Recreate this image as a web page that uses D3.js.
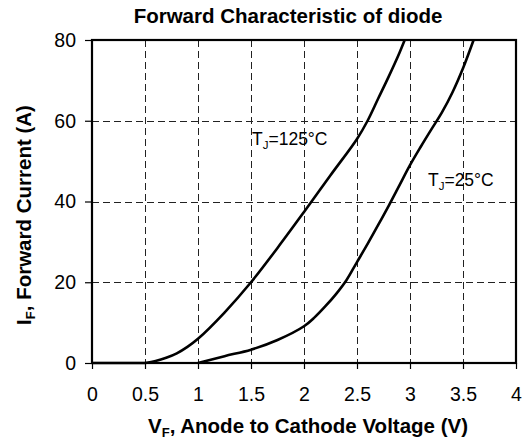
<!DOCTYPE html>
<html>
<head>
<meta charset="utf-8">
<script src="https://cdn.jsdelivr.net/npm/d3@7"></script>
<style>
  body { margin: 0; background: #fff; }
  svg { display: block; font-family: Arial, "Liberation Sans", sans-serif; }
</style>
</head>
<body>
<svg id="chart" width="524" height="442"></svg>
<script>
// ---- data ----
const xTicks = [0, 0.5, 1, 1.5, 2, 2.5, 3, 3.5, 4];
const yTicks = [0, 20, 40, 60, 80];
const tj125V = [0.5, 0.6, 0.7, 0.8, 0.9, 1.0, 1.25, 1.5, 1.75, 2.0, 2.25, 2.5, 2.6, 2.7, 2.8, 2.9, 2.95];
const tj125I = [0, 0.5, 1.3, 2.4, 4, 6, 12.5, 20, 28.5, 37.4, 46.5, 55.5, 60, 65.5, 71, 76.8, 80];
const tj25V = [1.0, 1.25, 1.5, 1.75, 2.0, 2.1, 2.2, 2.3, 2.4, 2.5, 2.6, 2.7, 2.8, 2.9, 3.0, 3.1, 3.2, 3.3, 3.4, 3.5, 3.6];
const tj25I = [0, 1.7, 3.3, 5.7, 9.1, 11.3, 14, 17, 20.5, 25, 29.5, 34.2, 39, 44, 49, 53.5, 57.8, 62, 67, 73, 80];
const labels = [
  { main: "T", sub: "J", rest: "=125°C", v: 1.5, i: 54 },
  { main: "T", sub: "J", rest: "=25°C", v: 3.16, i: 44 }
];

const svg = d3.select("#chart");
const x = d3.scaleLinear().domain([0, 4]).range([92, 516]);
const y = d3.scaleLinear().domain([0, 80]).range([363, 40]);

// grid
const grid = svg.append("g").attr("stroke", "#222").attr("stroke-width", 1).attr("stroke-dasharray", "7,4");
grid.selectAll("line.v").data(xTicks.slice(1, -1)).enter().append("line")
  .attr("x1", d => Math.round(x(d)) + 0.5).attr("x2", d => Math.round(x(d)) + 0.5)
  .attr("y1", y(80)).attr("y2", y(0));
grid.selectAll("line.h").data(yTicks.slice(1, -1)).enter().append("line")
  .attr("y1", d => Math.round(y(d)) + 0.5).attr("y2", d => Math.round(y(d)) + 0.5)
  .attr("x1", x(0)).attr("x2", x(4));

// axes
const xAxis = svg.append("g").attr("transform", `translate(0,${y(0)})`)
  .call(d3.axisBottom(x).tickValues(xTicks).tickSize(6).tickPadding(18).tickFormat(d3.format("")));
const yAxis = svg.append("g").attr("transform", `translate(${x(0)},0)`)
  .call(d3.axisLeft(y).tickValues(yTicks).tickSize(7).tickPadding(9));
[xAxis, yAxis].forEach(a => {
  a.select(".domain").remove();
  a.selectAll("line").attr("stroke", "#000").attr("stroke-width", 1.2);
  a.selectAll("text").attr("font-size", "19.5px").attr("fill", "#000")
    .attr("font-family", "Arial, 'Liberation Sans', sans-serif");
});

// curves
const line = d3.line().x(d => x(d[0])).y(d => y(d[1])).curve(d3.curveCatmullRom.alpha(0.5));
const s125 = tj125V.map((v, k) => [v, tj125I[k]]);
const s25 = tj25V.map((v, k) => [v, tj25I[k]]);
svg.append("path").datum([[0, 0], [0.5, 0]]).attr("d", d3.line().x(d => x(d[0])).y(d => y(d[1])))
  .attr("fill", "none").attr("stroke", "#000").attr("stroke-width", 2.6);
[s125, s25].forEach(s => {
  svg.append("path").datum(s).attr("d", line)
    .attr("fill", "none").attr("stroke", "#000").attr("stroke-width", 2.6)
    .attr("stroke-linejoin", "round");
});

// frame
svg.append("rect").attr("x", x(0)).attr("y", y(80))
  .attr("width", x(4) - x(0)).attr("height", y(0) - y(80))
  .attr("fill", "none").attr("stroke", "#000").attr("stroke-width", 2.2);

// annotations
labels.forEach(l => {
  const t = svg.append("text").attr("x", x(l.v) + 1).attr("y", y(l.i) + 0.5)
    .attr("font-size", "17.5px").attr("fill", "#000");
  t.append("tspan").text(l.main);
  t.append("tspan").text(l.sub).attr("font-size", "11.5px").attr("dy", 4);
  t.append("tspan").text(l.rest).attr("dy", -4);
});

// title
svg.append("text").attr("x", 288).attr("y", 23).attr("text-anchor", "middle")
  .attr("font-size", "20.5px").attr("font-weight", "bold").text("Forward Characteristic of diode");

// x label
const xl = svg.append("text").attr("x", 308).attr("y", 433).attr("text-anchor", "middle")
  .attr("font-size", "20.5px").attr("font-weight", "bold");
xl.append("tspan").text("V");
xl.append("tspan").text("F").attr("font-size", "13px").attr("dy", 4);
xl.append("tspan").text(", Anode to Cathode Voltage (V)").attr("dy", -4);

// y label
const yl = svg.append("text").attr("transform", "translate(31,215) rotate(-90)").attr("text-anchor", "middle")
  .attr("font-size", "20.5px").attr("font-weight", "bold");
yl.append("tspan").text("I");
yl.append("tspan").text("F").attr("font-size", "13px").attr("dy", 4);
yl.append("tspan").text(", Forward Current (A)").attr("dy", -4);
</script>
</body>
</html>
